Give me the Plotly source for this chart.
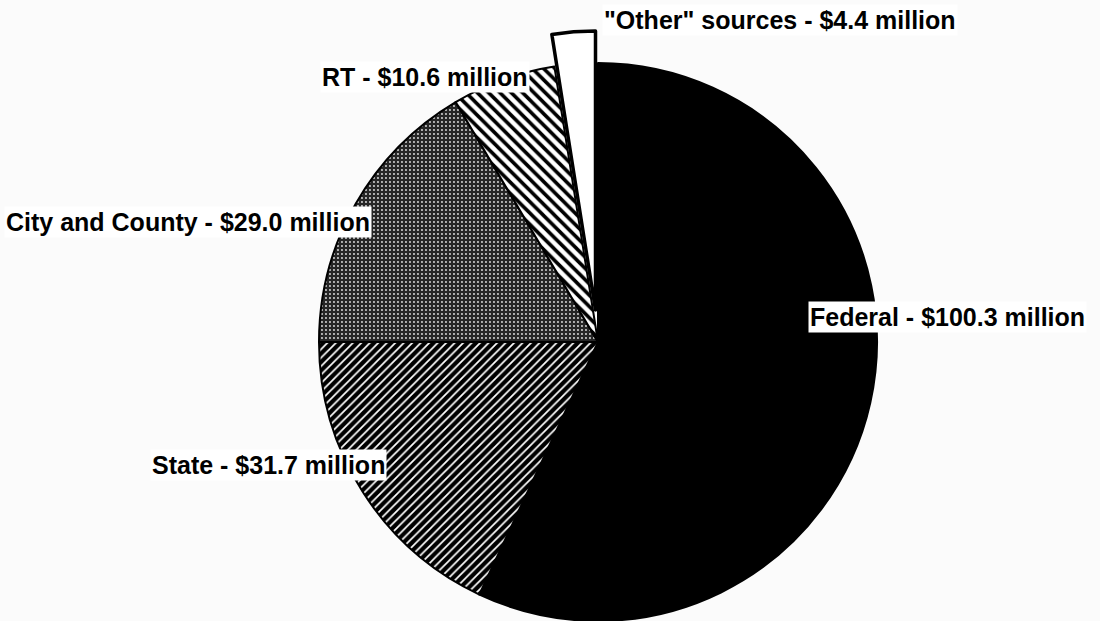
import plotly.graph_objects as go

labels = ["Federal", "State", "City and County", "RT", "\"Other\" sources"]
values = [100.3, 31.7, 29.0, 10.6, 4.4]
label_texts = [
    "Federal - $100.3 million",
    "State - $31.7 million",
    "City and County - $29.0 million",
    "RT - $10.6 million",
    "\"Other\" sources - $4.4 million",
]

W, H = 1100, 621
CX, CY, R = 598, 342, 279          # pie centre / radius in px (layout)
PULL_DX, PULL_DY = -2.5, -32       # offset of the exploded slice in px

def dom(cx, cy, r, extra=20):
    x0 = (cx - r - extra) / W
    x1 = (cx + r + extra) / W
    y0 = (H - cy - r) / H
    y1 = (H - cy + r) / H
    return dict(x=[x0, x1], y=[max(0, y0), min(1, y1)])

clear = "rgba(0,0,0,0)"

main = go.Pie(
    labels=labels, values=values, sort=False, direction="clockwise", rotation=0,
    textinfo="none", hoverinfo="label+value", showlegend=False,
    domain=dom(CX, CY, R),
    marker=dict(
        colors=["black", "black", "#3a3a3a", "white", clear],
        line=dict(color=["black"] * 4 + [clear], width=[2, 2, 2, 2, 0]),
        pattern=dict(
            shape=["", "/", ".", "\\", ""],
            fgcolor=["black", "white", "#e0e0e0", "black", "white"],
            bgcolor=["black", "black", "#262626", "white", clear],
            size=[6, 6, 4, 8, 6],
            solidity=[0.5, 0.28, 0.18, 0.45, 0.5],
            fillmode="replace",
        ),
    ),
)

other = go.Pie(
    labels=labels, values=values, sort=False, direction="clockwise", rotation=0,
    textinfo="none", hoverinfo="skip", showlegend=False,
    domain=dom(CX + PULL_DX, CY + PULL_DY, R),
    marker=dict(
        colors=[clear, clear, clear, clear, "white"],
        line=dict(color=[clear] * 4 + ["black"], width=[0, 0, 0, 0, 3.5]),
    ),
)

fig = go.Figure([main, other])

# label boxes: (text index, left px, centre y px)
label_pos = [
    (0, 808, 317),
    (1, 150, 465),
    (2, 4, 222),
    (3, 320, 77),
    (4, 602, 20),
]
for i, x, y in label_pos:
    fig.add_annotation(
        text="<b>" + label_texts[i] + "</b>", xref="paper", yref="paper",
        x=x / W, y=1 - y / H, xanchor="left", yanchor="middle",
        showarrow=False, bgcolor="white", borderpad=1,
        font=dict(family="Liberation Sans, Arial, sans-serif", size=25, color="black"),
    )

fig.update_layout(
    width=W, height=H, margin=dict(l=0, r=0, t=0, b=0),
    paper_bgcolor="#fbfbfb", plot_bgcolor="#fbfbfb",
)

fig.write_html("out.html")
